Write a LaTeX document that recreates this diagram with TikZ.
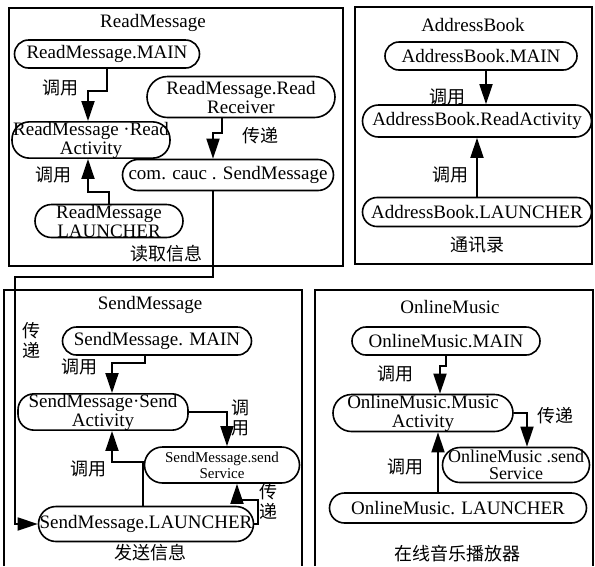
\documentclass[tikz,border=0pt]{standalone}
\usepackage{fontspec}
\setmainfont{Liberation Serif}
\newfontfamily\cjk{Noto Sans CJK SC}
\usetikzlibrary{arrows.meta}

\tikzset{
    x={1pt},
    y={-1pt},
    app box/.style={
        draw,
        line width={1.4pt},
    },
    app title/.style={
        font={\fontsize{19}{20}\selectfont},
    },
    component/.style 2 args={
        draw, rectangle,
        line width={1.6pt},
        minimum width={#1},
        minimum height={#2},
        rounded corners={#2*0.5pt},
        inner sep=0pt,
        align=center,
        font={\fontsize{19}{19}\selectfont},
    },
    flow/.style={
        draw,
        line width={1.8pt},
        -{Triangle[length=20pt,width=13pt]},
    },
    call label/.style={
        font={\cjk\fontsize{18}{20}\selectfont},
        align=center,
        inner sep=0pt,
    },
}

\begin{document}
\begin{tikzpicture}
\useasboundingbox (0,0) rectangle (595,566);
% app boxes
\path[app box] (9,8) rectangle (343,266);
\path[app box] (355,7) rectangle (592,264);
\path[app box] (4,566) -- (4,290) -- (302,290) -- (302,566);
\path[app box] (315,566) -- (315,290) -- (593,290) -- (593,566);
\node[app title] (rmTitle) at (153,23) {ReadMessage};
\node[app title] (abTitle) at (473,25) {AddressBook};
\node[app title] (smTitle) at (150,305) {SendMessage};
\node[app title] (omTitle) at (450,307) {OnlineMusic};
% ReadMessage
\node[component={185}{28}] (rmMain) at (107,54) {ReadMessage.MAIN};
\node[component={188}{41}] (rmReceiver) at (241,97) {ReadMessage.Read\\Receiver};
\node[component={158}{35}] (rmActivity) at (91,140) {ReadMessage ·Read\\Activity};
\node[component={211}{31}] (rmSend) at (228,175) {com. cauc . SendMessage};
\node[component={148}{33}] (rmLauncher) at (109,221) {ReadMessage\\LAUNCHER};
% AddressBook
\node[component={192}{28}] (abMain) at (481,56) {AddressBook.MAIN};
\node[component={229}{32}] (abActivity) at (477,121) {AddressBook.ReadActivity};
\node[component={229}{29}] (abLauncher) at (477,212) {AddressBook.LAUNCHER};
% SendMessage
\node[component={189}{28}] (smMain) at (157,341) {SendMessage. MAIN};
\node[component={170}{32}] (smActivity) at (103,412) {SendMessage·Send\\Activity};
\node[component={155}{36}, font={\fontsize{15}{16}\selectfont}] (smService) at (222,465) {SendMessage.send\\Service};
\node[component={215}{35}] (smLauncher) at (146,524) {SendMessage.LAUNCHER};
% OnlineMusic
\node[component={188}{28}] (omMain) at (446,341) {OnlineMusic.MAIN};
\node[component={180}{37}] (omActivity) at (423,413) {OnlineMusic.Music\\Activity};
\node[component={147}{35}, font={\fontsize{18}{17}\selectfont}] (omService) at (516,465) {OnlineMusic .send\\Service};
\node[component={257}{30}] (omLauncher) at (458,508) {OnlineMusic. LAUNCHER};
% arrows
\coordinate (relay) at (15,277);
\path[flow] (rmMain.south) -- ++(0,22) -| ([xshift=-3pt]rmActivity.north);
\path[flow] (rmLauncher.north) -- ++(0,-12) -| ([xshift=-3pt]rmActivity.south);
\path[flow] ([xshift=-19pt]rmReceiver.south) -- ++(0,15) -| ([xshift=-15pt]rmSend.north);
\path[flow] ([xshift=-15pt]rmSend.south) |- (relay) |- (smLauncher.west);
\path[flow] ([xshift=5pt]abMain.south) -- ([xshift=5pt]abMain.south |- abActivity.north);
\path[flow] (abLauncher.north) -- (abActivity.south);
\path[flow] ([xshift=-12pt]smMain.south) -- ++(0,7) -| ([xshift=9pt]smActivity.north);
\path[flow] (smActivity.east) -| ([xshift=5pt]smService.north);
\path[flow] ([xshift=-3pt]smLauncher.north) -- ++(0,-44) -| ([xshift=9pt]smActivity.south);
\path[flow] (smLauncher.east) -- ++(4,0) -- ++(0,-24) -| ([xshift=15pt]smService.south);
\path[flow] (omMain.south) -- ++(0,10) -| ([xshift=17pt]omActivity.north);
\path[flow] (omActivity.east) -| ([xshift=11pt]omService.north);
\path[flow] ([xshift=-20pt]omLauncher.north) -- ([xshift=15pt]omActivity.south);
% labels
\node[call label] (rmCall1) at (60,88) {调用};
\node[call label] (rmCall2) at (53,175) {调用};
\node[call label] (rmPass) at (260,136) {传递};
\node[call label] (rmName) at (166,254) {读取信息};
\node[call label] (abCall1) at (447,97) {调用};
\node[call label] (abCall2) at (450,175) {调用};
\node[call label] (abName) at (477,245) {通讯录};
\node[call label] (smPass1) at (31,340) {传\\递};
\node[call label] (smCall1) at (79,367) {调用};
\node[call label] (smCall2) at (240,418) {调\\用};
\node[call label] (smCall3) at (88,469) {调用};
\node[call label] (smPass2) at (268,501) {传\\递};
\node[call label] (smName) at (150,553) {发送信息};
\node[call label] (omPass) at (555,416) {传递};
\node[call label] (omCall1) at (395,374) {调用};
\node[call label] (omCall2) at (405,467) {调用};
\node[call label] (omName) at (457,554) {在线音乐播放器};
\end{tikzpicture}
\end{document}
